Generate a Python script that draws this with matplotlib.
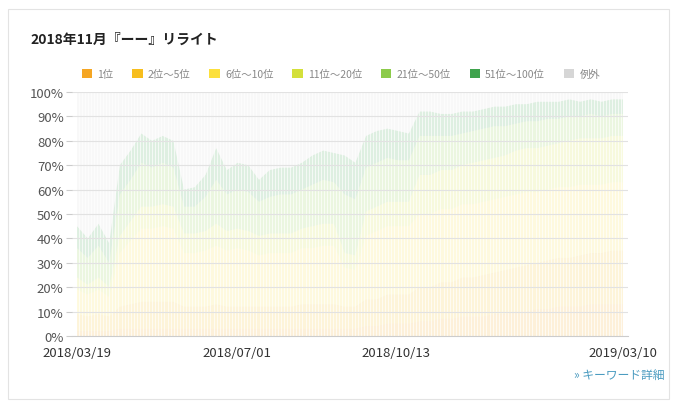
import matplotlib.pyplot as plt
import matplotlib.dates as mdates
import matplotlib.ticker as mticker
from matplotlib.patches import Patch, Rectangle
import pandas as pd

plt.rcParams['font.family'] = ['Noto Sans CJK JP', 'DejaVu Sans']

# 데이터 (주 단위, %)
dates = pd.date_range('2018-03-19', '2019-03-10', periods=52)

rank_1 = [2, 2, 2, 2, 3, 3, 3, 3, 3, 3,
          3, 3, 3, 3, 3, 3, 3, 3, 3, 3, 3, 3, 3, 3, 3, 3, 3,
          4, 4, 5, 5, 5,
          6, 6, 7, 7, 8, 8, 8, 9, 9, 10, 10, 11, 11, 12, 12, 12, 13, 13, 13, 13]
rank_2_5 = [7, 6, 7, 6, 9, 10, 11, 11, 11, 11,
            9, 9, 9, 10, 9, 9, 9, 9, 9, 9, 9, 10, 10, 10, 10, 9, 9,
            11, 11, 12, 12, 12,
            14, 14, 15, 15, 16, 16, 17, 17, 18, 18, 19, 19, 20, 20, 20, 21, 21, 21, 22, 22]
rank_6_10 = [10, 9, 10, 8, 22, 26, 30, 30, 31, 30,
             22, 22, 23, 24, 23, 24, 23, 21, 22, 22, 22, 23, 23, 24, 24, 16, 15,
             26, 28, 28, 28, 28,
             30, 30, 30, 30, 30, 30, 30, 30, 30, 30, 30, 29, 29, 29, 29, 29, 28, 28, 28, 28]
rank_11_20 = [5, 4, 5, 4, 7, 8, 9, 9, 9, 9,
              8, 8, 8, 9, 8, 8, 8, 8, 8, 8, 8, 8, 9, 9, 9, 6, 6,
              10, 10, 10, 10, 10,
              16, 16, 16, 16, 16, 17, 17, 17, 17, 18, 18, 18, 18, 18, 19, 19, 19, 19, 19, 19]
rank_21_50 = [12, 11, 13, 10, 17, 17, 18, 16, 17, 16,
              11, 11, 14, 18, 15, 16, 16, 14, 15, 16, 16, 16, 17, 18, 17, 24, 23,
              18, 18, 18, 17, 17,
              16, 16, 14, 14, 13, 13, 13, 13, 12, 11, 11, 11, 11, 10, 10, 9, 10, 9, 9, 9]
rank_51_100 = [9, 8, 9, 8, 12, 12, 12, 11, 11, 11,
               7, 8, 9, 13, 10, 11, 11, 9, 11, 11, 11, 11, 12, 12, 12, 16, 15,
               13, 13, 12, 12, 11,
               10, 10, 9, 9, 9, 8, 8, 8, 8, 8, 7, 8, 7, 7, 7, 6, 6, 6, 6, 6]

labels = ['1位', '2位～5位', '6位～10位', '11位～20位', '21位～50位', '51位～100位', '例外']
colors = ['#F5A623', '#F7BE1E', '#FCE03C', '#D4E03A', '#8CCB4A', '#3FA34D', '#D6D6D6']

series = [rank_1, rank_2_5, rank_6_10, rank_11_20, rank_21_50, rank_51_100]
ranked_total = [sum(v) for v in zip(*series)]
other = [100 - t for t in ranked_total]

fig = plt.figure(figsize=(6.76, 4.02), dpi=100)
fig.patches.append(Rectangle((8 / 676, 2 / 402), 661 / 676, 390 / 402, transform=fig.transFigure,
                             fill=False, edgecolor='#e3e3e3', linewidth=0.8))
ax = fig.add_axes([72 / 676, 1 - 337 / 402, 556 / 676, 244 / 402])

ax.stackplot(dates, *series, other, colors=colors, alpha=0.17, linewidth=0)

ax.set_ylim(0, 100)
ax.set_xlim(pd.Timestamp('2018-03-19') - pd.Timedelta(days=3.3),
            pd.Timestamp('2019-03-10') + pd.Timedelta(days=3.3))
ax.set_yticks(range(0, 101, 10))
ax.yaxis.set_major_formatter(mticker.FuncFormatter(lambda v, p: f'{int(v)}%'))
xt = pd.to_datetime(['2018-03-19', '2018-07-01', '2018-10-13', '2019-03-10'])
ax.set_xticks(xt)
ax.set_xticklabels([d.strftime('%Y/%m/%d') for d in xt])
ax.xaxis.set_minor_locator(mdates.DayLocator(interval=2))

ax.set_axisbelow(False)
ax.grid(axis='y', color='#e2e2e2', linewidth=0.8)
ax.grid(axis='x', which='minor', color='white', linewidth=0.6, alpha=0.8)
for s in ['top', 'right', 'left']:
    ax.spines[s].set_visible(False)
ax.spines['bottom'].set_color('#cccccc')
ax.tick_params(axis='y', length=4, color='#cccccc', labelsize=9.5, labelcolor='#555555', pad=2)
ax.tick_params(axis='x', length=0, labelsize=9.5, labelcolor='#333333', pad=7)
ax.tick_params(axis='x', which='minor', length=0)

fig.text(30 / 676, 1 - 40 / 402, '2018年11月『ーー』リライト', fontsize=10, fontweight='bold',
         color='#222222', va='center')

handles = [Patch(facecolor=c, edgecolor='none') for c in colors]
fig.legend(handles, labels, loc='center', bbox_to_anchor=(341 / 676, 1 - 75 / 402), ncol=7,
           frameon=False, fontsize=7.5, labelcolor='#888888', handlelength=1, handleheight=1,
           handletextpad=0.5, columnspacing=1.8)

fig.text(665 / 676, 1 - 376 / 402, '» キーワード詳細', fontsize=8.5, color='#4a9bc0',
         ha='right', va='center')

fig.savefig('out.png', dpi=100, facecolor='white')
